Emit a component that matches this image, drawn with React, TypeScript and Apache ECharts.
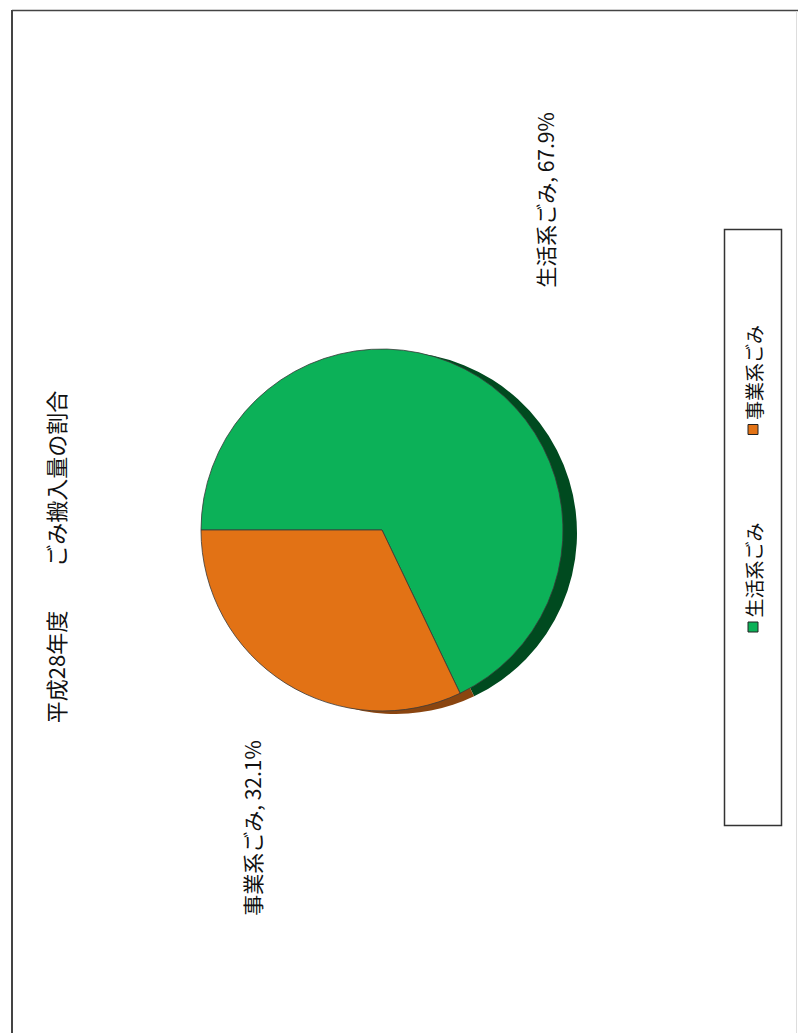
import React, { useEffect, useRef } from "react";
import * as echarts from "echarts";

const titleText = "平成28年度　　ごみ搬入量の割合";
const categories = ["生活系ごみ", "事業系ごみ"];
const values = [67.9, 32.1];
const colors = ["#0cb158", "#e27215"];
const sideColors = ["#004a1f", "#8a4510"];

const FONT = "'Noto Sans CJK JP', 'Noto Sans', sans-serif";

export default function App() {
  const ref = useRef<HTMLDivElement>(null);
  useEffect(() => {
    if (!ref.current) return;
    const chart = echarts.init(ref.current, undefined, { renderer: "svg" });
    const data = categories.map((name, i) => ({
      name,
      value: values[i],
      itemStyle: { color: colors[i] },
    }));
    const sideData = categories.map((name, i) => ({
      name,
      value: values[i],
      itemStyle: { color: sideColors[i] },
    }));
    const labelPos = [
      { x: 545, y: 200 },
      { x: 252, y: 828 },
    ];
    const legendPos = [
      { y: 570 },
      { y: 372.5 },
    ];
    const graphics: any[] = [
      { type: "line", shape: { x1: 12, y1: 10, x2: 12, y2: 1033 }, style: { stroke: "#444", lineWidth: 2 } },
      { type: "line", shape: { x1: 12, y1: 10.5, x2: 798, y2: 10.5 }, style: { stroke: "#444", lineWidth: 1.5 } },
      { type: "line", shape: { x1: 796.5, y1: 11, x2: 796.5, y2: 1033 }, style: { stroke: "#ddd", lineWidth: 1 } },
      {
        type: "text",
        x: 55,
        y: 557,
        rotation: Math.PI / 2,
        style: { text: titleText, font: `22px ${FONT}`, fill: "#111", align: "center", verticalAlign: "middle" },
      },
      {
        type: "rect",
        shape: { x: 724.5, y: 229.5, width: 57, height: 596 },
        style: { fill: "#fff", stroke: "#333", lineWidth: 1.5 },
      },
    ];
    categories.forEach((name, i) => {
      graphics.push({
        type: "text",
        x: labelPos[i].x,
        y: labelPos[i].y,
        rotation: Math.PI / 2,
        style: {
          text: `${name}, ${values[i].toFixed(1)}%`,
          font: `21px ${FONT}`,
          fill: "#111",
          align: "center",
          verticalAlign: "middle",
        },
      });
      graphics.push({
        type: "rect",
        shape: { x: 748, y: legendPos[i].y + 52, width: 10, height: 10 },
        style: { fill: colors[i], stroke: "#222", lineWidth: 1 },
      });
      graphics.push({
        type: "text",
        x: 753,
        y: legendPos[i].y,
        rotation: Math.PI / 2,
        style: { text: name, font: `19px ${FONT}`, fill: "#111", align: "center", verticalAlign: "middle" },
      });
    });
    chart.setOption({
      animation: false,
      backgroundColor: "#fff",
      graphic: graphics,
      series: [
        {
          type: "pie",
          center: [396, 533],
          radius: 181,
          startAngle: 180,
          clockwise: true,
          label: { show: false },
          labelLine: { show: false },
          silent: true,
          z: 1,
          data: sideData,
          itemStyle: { borderWidth: 0 },
        },
        {
          type: "pie",
          center: [382, 530],
          radius: 181,
          startAngle: 180,
          clockwise: true,
          label: { show: false },
          labelLine: { show: false },
          z: 2,
          data,
          itemStyle: { borderColor: "#3a3a3a", borderWidth: 0.8 },
        },
      ],
    });
    return () => chart.dispose();
  }, []);
  return <div ref={ref} style={{ position: "fixed", left: 0, top: 0, width: 798, height: 1033 }} />;
}
